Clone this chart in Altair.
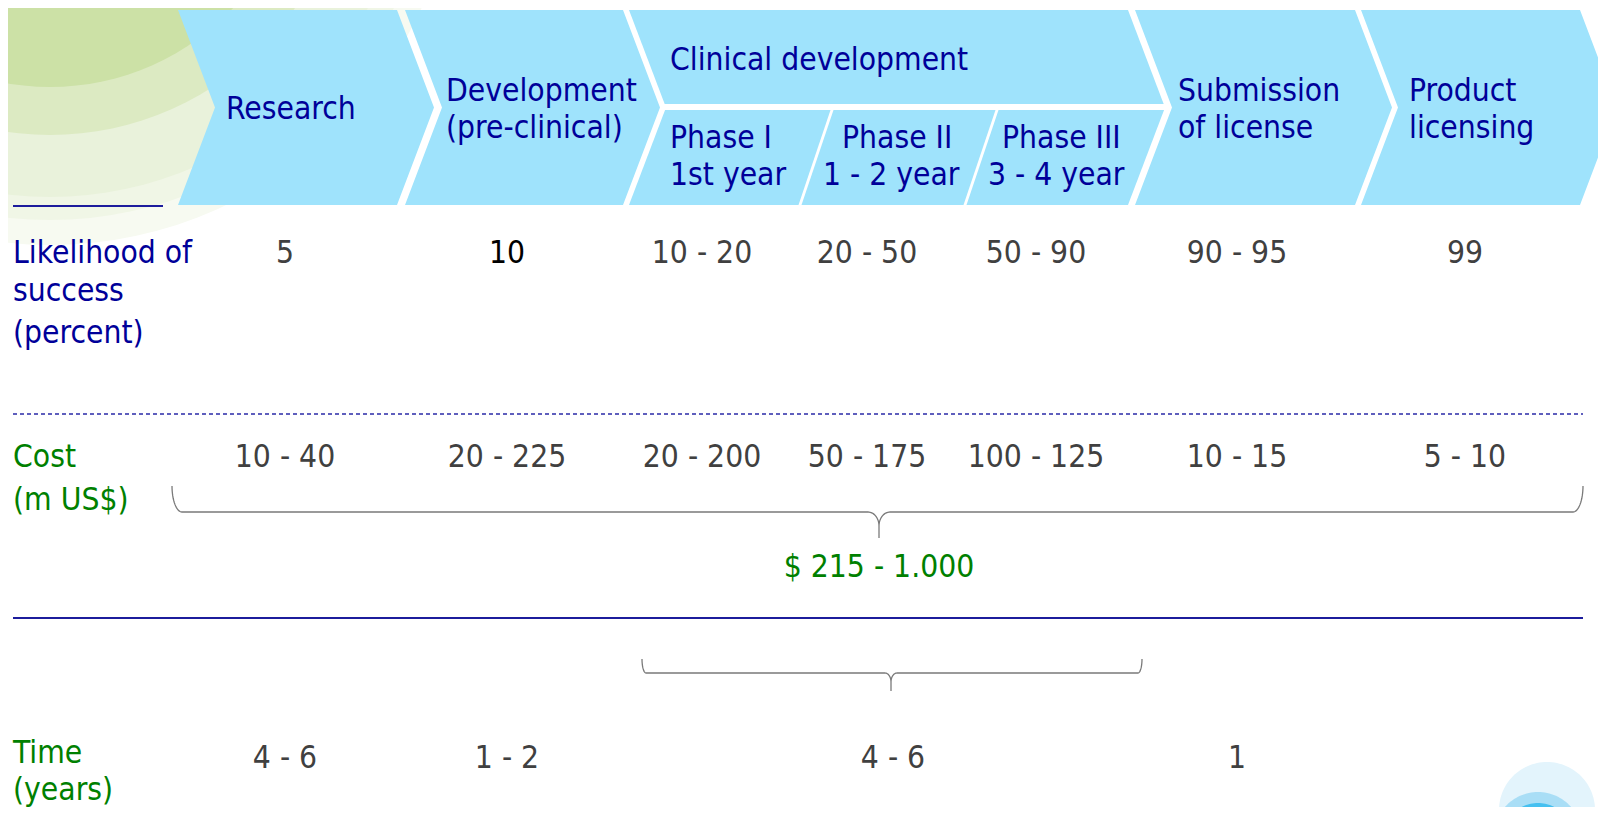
import math
import altair as alt

FONT = "DejaVu Sans Condensed, DejaVu Sans, sans-serif"
FS = 31.5

# ---------------- content ----------------
stage_titles = ["Research", "Development|(pre-clinical)", "Clinical development",
                "Submission|of license", "Product|licensing"]
phase_titles = ["Phase I", "Phase II", "Phase III"]
phase_years = ["1st year", "1 - 2 year", "3 - 4 year"]
row_titles = ["Likelihood of|success|(percent)", "Cost|(m US$)", "Time|(years)"]
likelihood = ["5", "10", "10 - 20", "20 - 50", "50 - 90", "90 - 95", "99"]
cost = ["10 - 40", "20 - 225", "20 - 200", "50 - 175", "100 - 125", "10 - 15", "5 - 10"]
cost_total = ["$ 215 - 1.000"]
time_years = ["4 - 6", "1 - 2", "4 - 6", "1"]

# ---------------- layout (slide pixel grid) ----------------
TOP, BOT, MID, DEPTH = 10, 205, 107.5, 37
stage_left = [178, 405, 629, 1135, 1361]
stage_right = [397, 623, 1128, 1355, 1580]
clin_split = [104, 110]
sep_top = [832, 997]
sep_bot = [800, 965]
SEP = 1.5
stage_text_x = [226, 446, 670, 1178, 1409]
stage_text_y = [[119], [101, 138], [70], [101, 138], [101, 138]]
phase_x1 = [670, 842, 1002]
phase_x2 = [670, 823, 988]
phase_y = [148, 185]
row_x = 13
row_y = [[263, 301, 343], [467, 510], [763, 800]]
col_x = [285, 507, 702, 867, 1036, 1237, 1465]
value_y = [263, 467, 768]
time_x = [285, 507, 893, 1237]
total_xy = [879, 577]

# colours
CHEV = "#9FE3FC"
NAVY = "#000099"
VAL = "#404040"
GREEN = "#008000"
LINE = "#1C1C9C"
BRACE = "#7A7A7A"

green_center = [50, -165]
green_rings = [[410, "#F7FAF1"], [385, "#F0F6E6"], [362, "#E9F2DB"], [300, "#DCEAC2"], [252, "#CCE1A6"]]
blue_rings = [[1547, 810, 48, "#E3F4FC"], [1538, 836, 44, "#A9DEF6"], [1538, 838, 35, "#45C0F0"]]


def poly(pts, fill):
    ring = [list(map(float, p)) for p in pts]
    ring.append(ring[0])
    return {"type": "Feature", "geometry": {"type": "Polygon", "coordinates": [ring]},
            "properties": {"fill": fill}}


def circle(cx, cy, r, fill, n=120):
    pts = [(cx + r * math.cos(2 * math.pi * i / n), cy + r * math.sin(2 * math.pi * i / n)) for i in range(n)]
    return poly(pts, fill)


def line_feat(coords_list):
    return {"type": "Feature",
            "geometry": {"type": "MultiLineString",
                         "coordinates": [[list(map(float, p)) for p in c] for c in coords_list]},
            "properties": {}}


slope = DEPTH / (MID - TOP)

# background blobs
bg = [circle(green_center[0], green_center[1], r, c) for r, c in green_rings]
bg += [circle(x, y, r, c) for x, y, r, c in blue_rings]

# chevrons
chev = []
for i, (L, R) in enumerate(zip(stage_left, stage_right)):
    if i == 2:
        y1, y2 = clin_split
        chev.append(poly([(L, TOP), (R, TOP), (R + slope * (y1 - TOP), y1), (L + slope * (y1 - TOP), y1)], CHEV))
        lt = L + slope * (BOT - y2)
        rt = R + slope * (BOT - y2)
        tops = [lt, sep_top[0] - SEP, sep_top[0] + SEP, sep_top[1] - SEP, sep_top[1] + SEP, rt]
        bots = [L, sep_bot[0] - SEP, sep_bot[0] + SEP, sep_bot[1] - SEP, sep_bot[1] + SEP, R]
        for k in range(3):
            a, b = tops[2 * k], tops[2 * k + 1]
            c, d = bots[2 * k + 1], bots[2 * k]
            chev.append(poly([(a, y2), (b, y2), (c, BOT), (d, BOT)], CHEV))
    else:
        chev.append(poly([(L, TOP), (R, TOP), (R + DEPTH, MID), (R, BOT), (L, BOT), (L + DEPTH, MID)], CHEV))


# braces
def brace(x0, x1, xc, ytop, ymid, ytip, rxe, rye, rxc, ryc, n=16):
    halves = []
    for side in (-1, 1):
        xe = x0 if side == -1 else x1
        s = -side  # direction from end toward centre
        pts = []
        cxe, cye = xe + s * rxe, ymid - rye
        for j in range(n + 1):
            a = math.pi / 2 * j / n
            pts.append((cxe - s * rxe * math.cos(a), cye + rye * math.sin(a)))
        cxc, cyc = xc - s * rxc, ymid + ryc
        for j in range(n + 1):
            a = math.pi / 2 * j / n
            pts.append((cxc + s * rxc * math.sin(a), cyc - ryc * math.cos(a)))
        pts.append((xc, ytip))
        halves.append(pts)
    return halves


brace_specs = [
    [172, 1583, 879, 486, 512, 538, 10, 26, 11, 14],
    [642, 1142, 891, 657, 673, 691, 4, 14, 6, 9],
]
braces = [line_feat(brace(*b)) for b in brace_specs]

solid_lines = [line_feat([[(13, 206), (163, 206)]]), line_feat([[(13, 618), (1583, 618)]])]
dashed_lines = [line_feat([[(13, 414), (1583, 414)]])]

# texts
left_txt = []
for i, t in enumerate(stage_titles):
    for line, y in zip(t.split("|"), stage_text_y[i]):
        left_txt.append({"x": stage_text_x[i], "y": y, "t": line, "c": NAVY})
for k in range(3):
    left_txt.append({"x": phase_x1[k], "y": phase_y[0], "t": phase_titles[k], "c": NAVY})
    left_txt.append({"x": phase_x2[k], "y": phase_y[1], "t": phase_years[k], "c": NAVY})
row_colors = [NAVY, GREEN, GREEN]
for r, t in enumerate(row_titles):
    for line, y in zip(t.split("|"), row_y[r]):
        left_txt.append({"x": row_x, "y": y, "t": line, "c": row_colors[r]})

center_txt = []
for k, v in enumerate(likelihood):
    center_txt.append({"x": col_x[k], "y": value_y[0], "t": v, "c": "#000000" if k == 1 else VAL})
for k, v in enumerate(cost):
    center_txt.append({"x": col_x[k], "y": value_y[1], "t": v, "c": VAL})
for k, v in enumerate(time_years):
    center_txt.append({"x": time_x[k], "y": value_y[2], "t": v, "c": VAL})
center_txt.append({"x": total_xy[0], "y": total_xy[1], "t": cost_total[0], "c": GREEN})

PROJ = dict(type="identity", scale=1, translate=[-8, -8])

bg_layer = alt.Chart(alt.Data(values=bg)).mark_geoshape(strokeWidth=0).encode(
    fill=alt.Fill("properties.fill:N", scale=None)).project(**PROJ)
chev_layer = alt.Chart(alt.Data(values=chev)).mark_geoshape(strokeWidth=0).encode(
    fill=alt.Fill("properties.fill:N", scale=None)).project(**PROJ)
solid_layer = alt.Chart(alt.Data(values=solid_lines)).mark_geoshape(
    filled=False, stroke=LINE, strokeWidth=2).project(**PROJ)
dash_layer = alt.Chart(alt.Data(values=dashed_lines)).mark_geoshape(
    filled=False, stroke="#2A2AA8", strokeWidth=1.4, strokeDash=[4, 3]).project(**PROJ)
brace_layer = alt.Chart(alt.Data(values=braces)).mark_geoshape(
    filled=False, stroke=BRACE, strokeWidth=1.3).project(**PROJ)

left_layer = alt.Chart(alt.Data(values=left_txt)).mark_text(
    align="left", baseline="alphabetic", font=FONT, fontSize=FS).encode(
    longitude="x:Q", latitude="y:Q", text="t:N", color=alt.Color("c:N", scale=None)).project(**PROJ)
center_layer = alt.Chart(alt.Data(values=center_txt)).mark_text(
    align="center", baseline="alphabetic", font=FONT, fontSize=FS).encode(
    longitude="x:Q", latitude="y:Q", text="t:N", color=alt.Color("c:N", scale=None)).project(**PROJ)

chart = alt.layer(bg_layer, chev_layer, solid_layer, dash_layer, brace_layer, left_layer, center_layer).properties(
    width=1590, height=799, background="white", padding=0,
    autosize=alt.AutoSizeParams(type="none"),
).configure_view(strokeWidth=0)

chart.save("out.html", embed_options={"renderer": "svg", "actions": False})
